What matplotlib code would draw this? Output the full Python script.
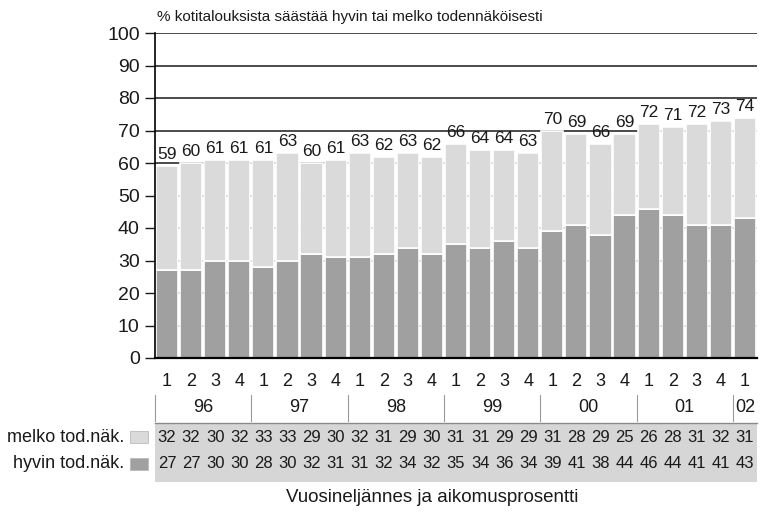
import matplotlib.pyplot as plt
from matplotlib.patches import Rectangle

# Quarterly survey 1996/1 - 2002/1
quarters = ["1", "2", "3", "4"] * 6 + ["1"]
years = ["96", "97", "98", "99", "00", "01", "02"]
totals = [59, 60, 61, 61, 61, 63, 60, 61, 63, 62, 63, 62, 66, 64, 64, 63,
          70, 69, 66, 69, 72, 71, 72, 73, 74]
melko = [32, 32, 30, 32, 33, 33, 29, 30, 32, 31, 29, 30, 31, 31, 29, 29,
         31, 28, 29, 25, 26, 28, 31, 32, 31]
hyvin = [27, 27, 30, 30, 28, 30, 32, 31, 31, 32, 34, 32, 35, 34, 36, 34,
         39, 41, 38, 44, 46, 44, 41, 41, 43]

plt.rcParams["font.family"] = ["Liberation Sans", "DejaVu Sans"]

dark = "#a0a0a0"
light = "#dadada"
ink = "#1a1a1a"

fig = plt.figure(figsize=(7.62, 5.13), dpi=100)
ax = fig.add_axes([155 / 762, 1 - 358 / 513, 602 / 762, 325 / 513])

x = list(range(len(totals)))
top = [t - h for t, h in zip(totals, hyvin)]

ax.set_axisbelow(True)
ax.grid(axis="y", color=ink, linewidth=1.1)
ax.bar(x, hyvin, width=0.92, color=dark, edgecolor="white", linewidth=1.2)
ax.bar(x, top, bottom=hyvin, width=0.92, color=light, edgecolor="white", linewidth=1.2)

for i, t in enumerate(totals):
    ax.text(i, t + 1.2, str(t), ha="center", va="bottom", fontsize=12.5, color=ink)

ax.set_xlim(-0.5, len(totals) - 0.5)
ax.set_ylim(0, 100)
ax.set_yticks(range(0, 101, 10))
ax.tick_params(axis="y", length=7, width=1, labelsize=14, pad=4, colors=ink)
ax.tick_params(axis="x", length=0, labelbottom=False)
for s in ["top", "right"]:
    ax.spines[s].set_visible(False)
ax.spines["left"].set_linewidth(1.2)
ax.spines["bottom"].set_linewidth(1.6)

fig.text(157 / 762, 1 - 17 / 513, "% kotitalouksista säästää hyvin tai melko todennäköisesti",
         ha="left", va="center", fontsize=11, color=ink)

# table under the chart
tr = ax.get_xaxis_transform()
for i, q in enumerate(quarters):
    ax.text(i, -23 / 325, q, transform=tr, ha="center", va="center",
            fontsize=13, color=ink, clip_on=False)

start = 0
for j, yr in enumerate(years):
    n = 4 if j < len(years) - 1 else 1
    ax.text(start + (n - 1) / 2, -50 / 325, yr, transform=tr, ha="center", va="center",
            fontsize=13, color=ink, clip_on=False)
    ax.plot([start - 0.5, start - 0.5], [-37 / 325, -63 / 325], transform=tr,
            color="#999999", linewidth=0.8, clip_on=False)
    start += n

band = Rectangle((-0.5, -124 / 325), len(totals), 59 / 325, transform=tr,
                 facecolor="#d6d6d6", edgecolor="none", clip_on=False)
ax.add_patch(band)
ax.plot([-0.5, len(totals) - 0.5], [-65 / 325, -65 / 325], transform=tr,
        color="#8a8a8a", linewidth=1, clip_on=False)

for i in x:
    ax.text(i, -79 / 325, str(melko[i]), transform=tr, ha="center", va="center",
            fontsize=12, color=ink, clip_on=False)
    ax.text(i, -105 / 325, str(hyvin[i]), transform=tr, ha="center", va="center",
            fontsize=12, color=ink, clip_on=False)

# row labels with swatches
for label, ypix, col in [("melko tod.näk.", 437, light), ("hyvin tod.näk.", 464, dark)]:
    fig.text(124 / 762, 1 - ypix / 513, label, ha="right", va="center",
             fontsize=13, color=ink)
    fig.patches.append(Rectangle((130 / 762, 1 - (ypix + 6) / 513), 18 / 762, 12 / 513,
                                 transform=fig.transFigure, facecolor=col,
                                 edgecolor="#bbbbbb", linewidth=0.6))

fig.text(432 / 762, 1 - 497 / 513, "Vuosineljännes ja aikomusprosentti",
         ha="center", va="center", fontsize=13.5, color=ink)

fig.savefig("out.png", dpi=100)
